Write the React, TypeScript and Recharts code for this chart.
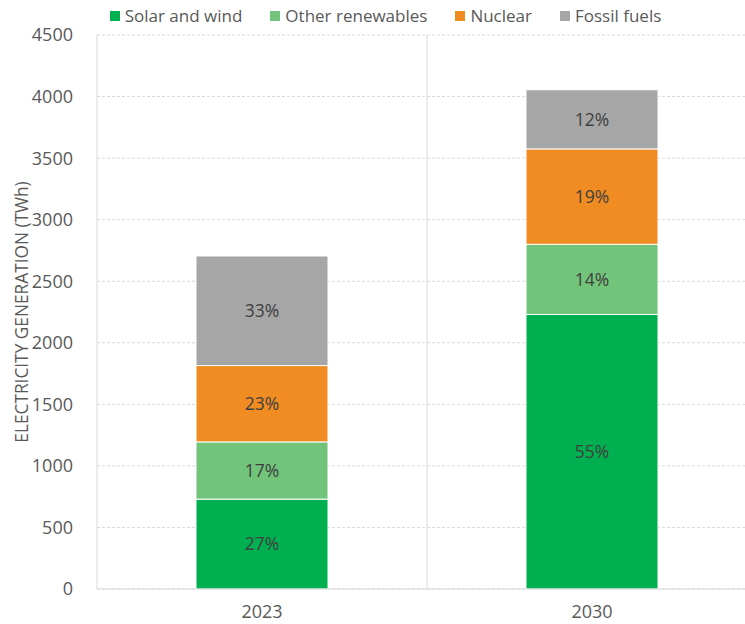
import React from "react";
import {
  BarChart,
  Bar,
  XAxis,
  YAxis,
  CartesianGrid,
  Legend,
  LabelList,
} from "recharts";

const years = ["2023", "2030"];
const solarWind = [730, 2230];
const otherRenewables = [465, 570];
const nuclear = [620, 775];
const fossil = [890, 480];
const yTicks = [0, 500, 1000, 1500, 2000, 2500, 3000, 3500, 4000, 4500];

const FONT = "'Open Sans', 'Noto Sans', sans-serif";
const TEXT = "#595959";

const series = [
  { key: "solar", name: "Solar and wind", color: "#00B050" },
  { key: "other", name: "Other renewables", color: "#71C47A" },
  { key: "nuclear", name: "Nuclear", color: "#F18C22" },
  { key: "fossil", name: "Fossil fuels", color: "#A6A6A6" },
];

const data = years.map((year, i) => {
  const vals = [solarWind[i], otherRenewables[i], nuclear[i], fossil[i]];
  const total = vals.reduce((a, b) => a + b, 0);
  const row: Record<string, any> = { year };
  series.forEach((s, j) => {
    row[s.key] = vals[j];
    row[s.key + "Pct"] = `${Math.round((vals[j] / total) * 100)}%`;
  });
  return row;
});

const LegendRow = () => (
  <div
    style={{
      display: "flex",
      justifyContent: "center",
      paddingLeft: 14,
      fontSize: 17,
      color: TEXT,
      fontFamily: FONT,
      lineHeight: "20px",
    }}
  >
    {series.map((s) => (
      <div
        key={s.key}
        style={{ display: "flex", alignItems: "center", margin: "0 14px" }}
      >
        <span
          style={{
            width: 10,
            height: 10,
            background: s.color,
            display: "inline-block",
            marginRight: 5,
          }}
        />
        {s.name}
      </div>
    ))}
  </div>
);

const YLabel = ({ viewBox }: any) => {
  const cx = 21;
  const cy = viewBox.y + viewBox.height / 2;
  return (
    <text
      x={cx}
      y={cy}
      transform={`rotate(-90 ${cx} ${cy})`}
      textAnchor="middle"
      dominantBaseline="central"
      fill={TEXT}
      fontSize={17.3}
    >
      ELECTRICITY GENERATION (TWh)
    </text>
  );
};

const App: React.FC = () => {
  return (
    <div
      style={{
        position: "absolute",
        left: 0,
        top: 0,
        width: 745,
        height: 624,
        overflow: "hidden",
        background: "#fff",
      }}
    >
      <BarChart
        width={760}
        height={624}
        data={data}
        margin={{ top: 13, right: 3, bottom: 0, left: 0 }}
        barCategoryGap="30%"
        style={{ fontFamily: FONT }}
      >
        <CartesianGrid
          stroke="#D9D9D9"
          strokeDasharray="3 2"
          vertical={false}
        />
        <CartesianGrid
          stroke="#D9D9D9"
          horizontal={false}
          verticalCoordinatesGenerator={({ offset }: any) => [
            offset.left + offset.width / 2,
          ]}
        />
        <XAxis
          dataKey="year"
          tickLine={false}
          axisLine={{ stroke: "#D9D9D9" }}
          tick={{ fill: TEXT, fontSize: 18 }}
          tickMargin={10}
          height={35}
        />
        <YAxis
          domain={[0, 4500]}
          ticks={yTicks}
          tickLine={false}
          axisLine={{ stroke: "#D9D9D9" }}
          tick={{ fill: TEXT, fontSize: 18 }}
          tickMargin={18}
          width={97}
          label={<YLabel />}
        />
        <Legend
          verticalAlign="top"
          height={22}
          wrapperStyle={{ top: 6 }}
          content={<LegendRow />}
        />
        {series.map((s) => (
          <Bar
            key={s.key}
            dataKey={s.key}
            name={s.name}
            stackId="a"
            fill={s.color}
            stroke="#fff"
            strokeWidth={1}
            isAnimationActive={false}
          >
            <LabelList
              dataKey={s.key + "Pct"}
              position="center"
              fill="#404040"
              fontSize={17.5}
            />
          </Bar>
        ))}
      </BarChart>
    </div>
  );
};

export default App;
